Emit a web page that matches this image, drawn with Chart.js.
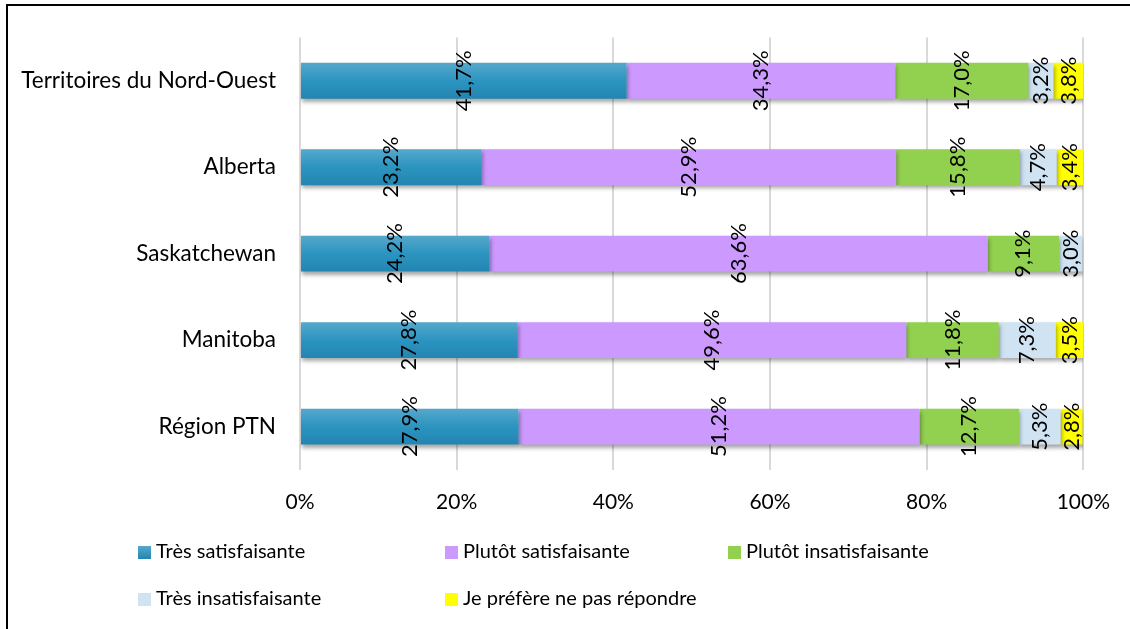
<!DOCTYPE html>
<html>
<head>
<meta charset="utf-8">
<script src="https://cdn.jsdelivr.net/npm/chart.js@4"></script>
<style>
  html, body { margin: 0; padding: 0; background: #fff; overflow: hidden; }
  #wrap { position: relative; width: 1130px; height: 629px; }
  #frame { position: absolute; left: 6px; top: 4px; width: 1200px; height: 700px; border: 2px solid #000; }
  canvas { position: absolute; left: 0; top: 0; }
  .legend { position: absolute; font-family: Lato, sans-serif; font-size: 20px; color: #000; white-space: nowrap; }
  .legend span.box { display: inline-block; width: 13px; height: 13px; margin-right: 5px; vertical-align: -1px; }
</style>
</head>
<body>
<div id="wrap">
  <div id="frame"></div>
  <canvas id="chart" width="1130" height="629"></canvas>
  <div id="legend"></div>
</div>
<script>
const categories = ['Territoires du Nord-Ouest', 'Alberta', 'Saskatchewan', 'Manitoba', 'Région PTN'];
const seriesNames = ['Très satisfaisante', 'Plutôt satisfaisante', 'Plutôt insatisfaisante', 'Très insatisfaisante', 'Je préfère ne pas répondre'];
const tresSatisfaisante = [41.7, 23.2, 24.2, 27.8, 27.9];
const plutotSatisfaisante = [34.3, 52.9, 63.6, 49.6, 51.2];
const plutotInsatisfaisante = [17.0, 15.8, 9.1, 11.8, 12.7];
const tresInsatisfaisante = [3.2, 4.7, 3.0, 7.3, 5.3];
const nePasRepondre = [3.8, 3.4, 0, 3.5, 2.8];
const xTicks = [0, 20, 40, 60, 80, 100];

const colors = ['#2a8fbb', '#cc99ff', '#92d050', '#cfe3f2', '#ffff00'];

document.addEventListener('DOMContentLoaded', () => {
    let ctx = document.getElementById('chart').getContext('2d');

    // bleu en dégradé comme dans Excel
    function blueGradient(c) {
        let chart = c.chart;
        if (!chart.chartArea || c.dataIndex === undefined) return colors[0];
        let y = chart.scales.y.getPixelForValue(c.dataIndex);
        let g = chart.ctx.createLinearGradient(0, y - 18, 0, y + 18);
        g.addColorStop(0, '#56a8cc');
        g.addColorStop(0.5, '#2c94c0');
        g.addColorStop(1, '#2385b1');
        return g;
    }

    let values = [tresSatisfaisante, plutotSatisfaisante, plutotInsatisfaisante, tresInsatisfaisante, nePasRepondre];
    let datasets = values.map((data, i) => ({
        label: seriesNames[i],
        data: data,
        backgroundColor: i === 0 ? blueGradient : colors[i],
        borderWidth: 0,
        barPercentage: 0.415,
        categoryPercentage: 1
    }));

    const shadow = {
        id: 'shadow',
        beforeDatasetsDraw(chart) {
            chart.ctx.save();
            chart.ctx.shadowColor = 'rgba(0,0,0,0.35)';
            chart.ctx.shadowOffsetY = 3;
            chart.ctx.shadowOffsetX = 1;
            chart.ctx.shadowBlur = 4;
        },
        afterDatasetsDraw(chart) {
            chart.ctx.restore();
        }
    };

    const labels = {
        id: 'valueLabels',
        afterDatasetsDraw(chart) {
            let c = chart.ctx;
            c.save();
            c.font = '22px Lato, sans-serif';
            c.fillStyle = '#000';
            c.textAlign = 'center';
            c.textBaseline = 'middle';
            chart.data.datasets.forEach((ds, i) => {
                chart.getDatasetMeta(i).data.forEach((bar, j) => {
                    let v = ds.data[j];
                    if (!v) return;
                    let cx = (bar.x + bar.base) / 2;
                    c.save();
                    c.translate(cx, bar.y);
                    c.rotate(-Math.PI / 2);
                    c.fillText(v.toFixed(1).replace('.', ',') + '%', 0, 0);
                    c.restore();
                });
            });
            c.restore();
        }
    };

    new Chart(ctx, {
        type: 'bar',
        data: { labels: categories, datasets: datasets },
        options: {
            indexAxis: 'y',
            responsive: false,
            animation: false,
            layout: { padding: { top: 33, right: 42, bottom: 94, left: 0 } },
            plugins: {
                legend: { display: false },
                tooltip: { enabled: false }
            },
            scales: {
                x: {
                    stacked: true,
                    min: 0,
                    max: 100,
                    afterBuildTicks: (axis) => { axis.ticks = xTicks.map(v => ({ value: v })); },
                    ticks: {
                        callback: (v) => v + '%',
                        color: '#000',
                        font: { family: 'Lato', size: 21 },
                        padding: 20,
                        maxRotation: 0
                    },
                    grid: { color: '#d9d9d9', lineWidth: 2, drawTicks: false },
                    border: { display: false }
                },
                y: {
                    stacked: true,
                    afterFit: (axis) => { axis.width = 300; },
                    ticks: {
                        color: '#000',
                        font: { family: 'Lato', size: 22.5 },
                        padding: 24
                    },
                    grid: { display: false, drawTicks: false },
                    border: { display: false }
                }
            }
        },
        plugins: [shadow, labels]
    });

    // légende en trois colonnes
    let legend = document.getElementById('legend');
    let pos = [[138, 551], [445, 551], [728, 551], [138, 598], [445, 598]];
    seriesNames.forEach((name, i) => {
        let d = document.createElement('div');
        d.className = 'legend';
        d.style.left = pos[i][0] + 'px';
        d.style.top = (pos[i][1] - 13) + 'px';
        let bg = i === 0 ? 'linear-gradient(#56a8cc, #2385b1)' : colors[i];
        d.innerHTML = '<span class="box" style="background:' + bg + '"></span>' + name;
        legend.appendChild(d);
    });
});
</script>
</body>
</html>
